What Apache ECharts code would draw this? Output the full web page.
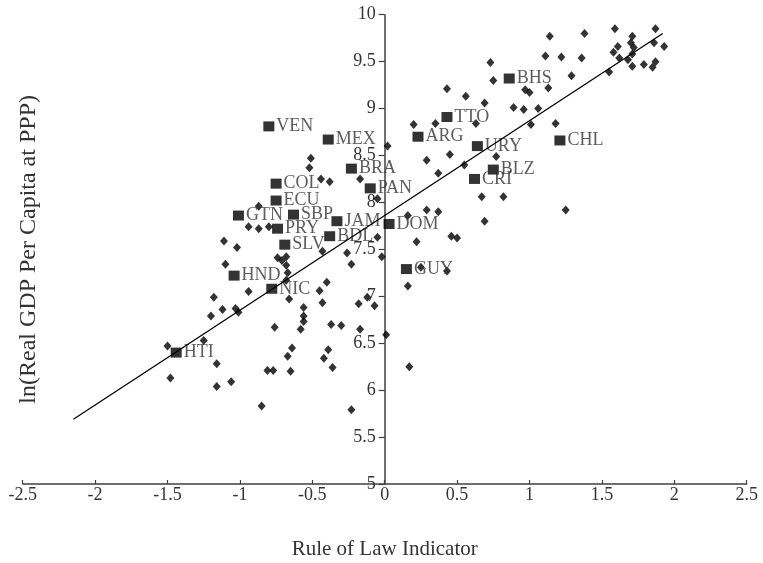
<html>
<head>
	<meta charset="utf-8">
	<title>Rule of Law vs GDP</title>
	<script src="https://cdn.jsdelivr.net/npm/echarts@6/dist/echarts.min.js"></script>
	<style type="text/css">
		html, body { margin: 0; padding: 0; background: #fff; }
	</style>
</head>
	<body>
		<div id="eCharts-container" style="width:763px;height:563px"></div>
	<script type="text/javascript">
		// other countries (diamonds)
		var ruleOfLaw = [0.02, -0.51, -0.52, -0.44, -0.38, -0.17, -0.05, -0.87, -0.94, -0.87, -0.80, -1.11, -1.02, -0.05, -0.43, -0.26,
			-0.74, -0.68, -0.02, -1.10, -0.71, -0.68, -0.67, -0.23, -0.68, -0.40, -0.45, -0.94, -1.18, -0.66, -0.43, -0.18,
			-0.12, -0.07, -1.12, -1.03, -1.01, -1.20, -0.56, -0.56, -0.56, -0.58, -0.76, -0.37, -0.30, -0.17, 0.01, -1.25,
			-1.50, -1.48, -1.16, -1.16, -1.06, -0.64, -0.67, -0.81, -0.77, -0.65, -0.39, -0.42, -0.36, -0.85, -0.23,
			0.20, 0.35, 0.43, 0.56, 0.63, 0.69, 0.73, 0.75, 0.29, 0.45, 0.37, 0.55, 0.77, 0.89, 0.96, 0.97, 1.00, 1.06,
			1.01, 1.13, 1.11, 1.14, 1.22, 1.29, 1.18, 1.36, 1.38, 0.67, 0.82, 1.25, 0.69, 0.29, 0.37, 0.16, 0.46, 0.50,
			0.22, 0.25, 0.43, 0.16, 1.59, 1.71, 1.87, 1.61, 1.58, 1.70, 1.72, 1.86, 1.93, 1.62, 1.68, 1.71, 1.55, 1.71,
			1.79, 1.85, 1.87, 0.17];
		var lnGdp = [8.60, 8.47, 8.37, 8.25, 8.22, 8.25, 8.04, 7.96, 7.74, 7.72, 7.74, 7.59, 7.52, 7.63, 7.48, 7.46,
			7.41, 7.42, 7.42, 7.34, 7.38, 7.33, 7.25, 7.34, 7.17, 7.15, 7.06, 7.05, 6.99, 6.97, 6.93, 6.92,
			6.99, 6.90, 6.86, 6.87, 6.83, 6.79, 6.88, 6.79, 6.73, 6.65, 6.67, 6.70, 6.69, 6.65, 6.59, 6.53,
			6.47, 6.13, 6.28, 6.04, 6.09, 6.45, 6.36, 6.21, 6.21, 6.20, 6.43, 6.34, 6.24, 5.83, 5.79,
			8.83, 8.84, 9.21, 9.13, 8.84, 9.06, 9.49, 9.30, 8.45, 8.51, 8.31, 8.40, 8.49, 9.01, 8.99, 9.20, 9.17, 9.00,
			8.83, 9.22, 9.56, 9.77, 9.55, 9.35, 8.84, 9.54, 9.80, 8.06, 8.06, 7.92, 7.80, 7.92, 7.90, 7.86, 7.64, 7.62,
			7.58, 7.31, 7.27, 7.11, 9.85, 9.77, 9.85, 9.66, 9.60, 9.70, 9.65, 9.70, 9.66, 9.54, 9.52, 9.58, 9.39, 9.45,
			9.47, 9.44, 9.50, 6.25];

		// Latin America & Caribbean (labelled squares)
		var countryCodes = ['VEN', 'MEX', 'BRA', 'COL', 'PAN', 'ECU', 'GTN', 'SBP', 'JAM', 'PRY', 'DOM', 'BDL',
			'SLV', 'HND', 'NIC', 'HTI', 'BHS', 'TTO', 'ARG', 'URY', 'BLZ', 'CRI', 'CHL', 'GUY'];
		var countryRuleOfLaw = [-0.80, -0.39, -0.23, -0.75, -0.10, -0.75, -1.01, -0.63, -0.33, -0.74, 0.03, -0.38,
			-0.69, -1.04, -0.78, -1.44, 0.86, 0.43, 0.23, 0.64, 0.75, 0.62, 1.21, 0.15];
		var countryGdp = [8.81, 8.67, 8.36, 8.20, 8.15, 8.02, 7.86, 7.87, 7.80, 7.72, 7.77, 7.64,
			7.55, 7.22, 7.08, 6.40, 9.32, 8.91, 8.70, 8.60, 8.35, 8.25, 8.66, 7.29];

		// fitted line end points
		var fitX = [-2.15, 1.92];
		var fitY = [5.69, 9.80];

		var serif = 'Liberation Serif';
		var axisColor = '#404040';

		var others = [];
		for (var i = 0; i < ruleOfLaw.length; i++) {
			others.push([ruleOfLaw[i], lnGdp[i]]);
		}
		var latin = [];
		for (var i = 0; i < countryCodes.length; i++) {
			latin.push({name: countryCodes[i], value: [countryRuleOfLaw[i], countryGdp[i]]});
		}
		var fit = [];
		for (var i = 0; i < fitX.length; i++) {
			fit.push([fitX[i], fitY[i]]);
		}

		var myChart = echarts.init(document.getElementById('eCharts-container'));
		// y axis sits at x = 0, i.e. half the plot width in from the left edge
		var gridLeft = 22.7, gridRight = 16.3;
		var yOffset = -(763 - gridLeft - gridRight) / 2;
		var option = {
			animation: false,
			grid: {left: gridLeft, right: gridRight, top: 14.7, bottom: 79, containLabel: false, outerBoundsMode: 'none'},
			xAxis: {
				type: 'value', min: -2.5, max: 2.5, interval: 0.5,
				splitLine: {show: false},
				axisLine: {lineStyle: {color: axisColor, width: 1.5}},
				axisTick: {inside: true, length: 4, lineStyle: {color: axisColor, width: 1.2}},
				axisLabel: {margin: 2, color: '#333', fontFamily: serif, fontSize: 18},
				name: 'Rule of Law Indicator', nameLocation: 'middle', nameGap: 55,
				nameTextStyle: {color: '#333', fontFamily: serif, fontSize: 21}
			},
			yAxis: {
				type: 'value', min: 5, max: 10, interval: 0.5,
				position: 'left', offset: yOffset,
				splitLine: {show: false},
				axisLine: {onZero: false, lineStyle: {color: axisColor, width: 1.5}},
				axisTick: {length: 6, lineStyle: {color: axisColor, width: 1.2}},
				axisLabel: {margin: 9, color: '#333', fontFamily: serif, fontSize: 18},
				name: 'ln(Real GDP Per Capita at PPP)', nameLocation: 'middle', nameGap: 344,
				nameTextStyle: {color: '#333', fontFamily: serif, fontSize: 24}
			},
			series: [
				{
					type: 'line', data: fit, showSymbol: false, silent: true,
					lineStyle: {color: '#000', width: 1.3}
				},
				{
					type: 'scatter', data: others, symbol: 'diamond', symbolSize: [8, 9],
					itemStyle: {color: '#000'}
				},
				{
					type: 'scatter', data: latin, symbol: 'rect', symbolSize: [11, 10],
					itemStyle: {color: '#000'},
					label: {
						show: true, position: 'right', distance: 2, formatter: '{b}',
						color: '#333', fontFamily: serif, fontSize: 18
					}
				}
			]
		};
		myChart.setOption(option);
	</script>
	</body>
</html>
